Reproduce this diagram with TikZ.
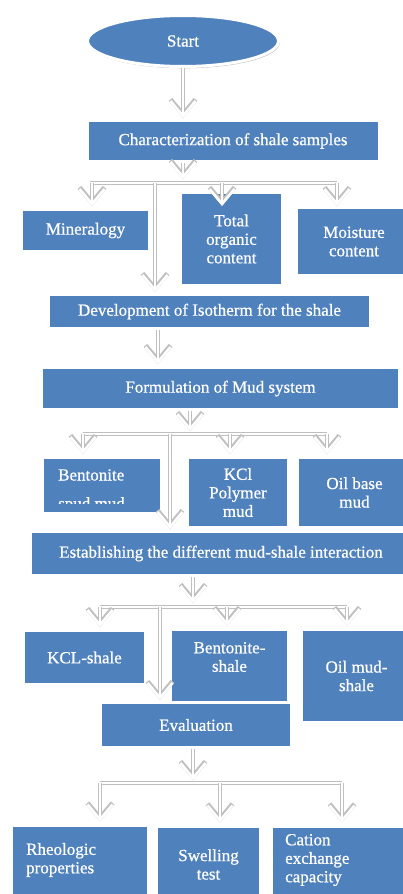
\documentclass[tikz,border=0pt]{standalone}
\usepackage{fontspec}
\setmainfont{Liberation Serif}
\newfontfamily\boxff{Liberation Serif}[FakeBold=0.7]
\usetikzlibrary{arrows.meta,shadows,shapes.geometric}
\definecolor{boxblue}{HTML}{4F81BD}
\newcommand\boxfont{\boxff\fontsize{17}{18.5}\selectfont}
\begin{document}
\begin{tikzpicture}[x=1pt,y=-1pt,
  box/.style={rectangle, fill=boxblue, draw=white, line width=3pt, text=white,
    font=\boxfont, align=center, inner sep=1pt,
    drop shadow={shadow xshift=1.2pt, shadow yshift=-1.8pt, fill=black!60, opacity=0.4}},
  conn/.style={draw=white, line width=2.6pt, line cap=butt, line join=miter,
    preaction={draw=black!25, line width=4.6pt}},
  arr/.style={-{Straight Barb[length=15pt,width=25pt,line join=miter]}},
  txt/.style={text=white, font=\boxfont, inner sep=0pt}]
\useasboundingbox (0,0) rectangle (403,894);
\fill[white] (0,0) rectangle (403,894);

% boxes
\node[box, ellipse, minimum width=191pt, minimum height=51pt] (start) at (183,41) {Start};
\node[box, minimum width=292pt, minimum height=41pt] (char) at (233,141) {Characterization of shale samples};
\node[box, minimum width=128pt, minimum height=42pt] (min) at (85.5,230.5) {Mineralogy};
\node[box, minimum width=102pt, minimum height=93pt] (toc) at (231.5,239) {Total\\organic\\content};
\node[box, minimum width=115pt, minimum height=68pt] (moist) at (354,241.5) {Moisture\\content};
\node[box, minimum width=322pt, minimum height=34pt] (dev) at (209.5,311.5) {Development of Isotherm for the shale};
\node[box, minimum width=358pt, minimum height=42pt] (form) at (220.5,388.5) {Formulation of Mud system};
\node[box, minimum width=119pt, minimum height=56pt] (bent) at (102,485.5) {};
\node[box, minimum width=101pt, minimum height=70pt] (kcl) at (238,492.5) {KCl\\Polymer\\mud};
\node[box, minimum width=114pt, minimum height=70pt] (oil) at (354.5,492.5) {Oil base\\mud};
\node[box, minimum width=381pt, minimum height=44pt] (est) at (221,553.5) {Establishing the different mud-shale interaction};
\node[box, minimum width=122pt, minimum height=54pt] (kcls) at (84.5,657.5) {KCL-shale};
\node[box, minimum width=118pt, minimum height=73pt] (bents) at (229.5,666) {};
\node[box, minimum width=110pt, minimum height=93pt] (oilms) at (356.5,676) {Oil mud-\\shale};
\node[box, minimum width=191pt, minimum height=45pt] (eval) at (196,725) {Evaluation};
\node[box, minimum width=137pt, minimum height=78pt] (rheo) at (80,864) {};
\node[box, minimum width=104pt, minimum height=77pt] (swell) at (208.5,864.5) {Swelling\\test};
\node[box, minimum width=140pt, minimum height=77pt] (cat) at (341.5,864.5) {};

% texts placed off-centre
\node[txt, anchor=base west] (bentt) at (58,480.5) {Bentonite};
\begin{scope}
  \clip (44,440) rectangle (160,503.5);
  \node[txt, anchor=base west] (bentt2) at (58,509) {spud mud};
\end{scope}
\node[txt, align=center] (bentst) at (229.5,657) {Bentonite-\\shale};
\node[txt, align=left, anchor=west] (rheot) at (26,860) {Rheologic\\properties};
\node[txt, align=left, anchor=west] (catt) at (285,860) {Cation\\exchange\\capacity};

% junction coordinates
\coordinate (j1) at (183,183);
\coordinate (h1l) at (90,183);  \coordinate (h1r) at (337,183);
\coordinate (a1) at (92,183);   \coordinate (b1) at (155,183);
\coordinate (c1) at (222,183);  \coordinate (d1) at (337,183);
\coordinate (tc1) at (222,206); \coordinate (td1) at (337,206);

\coordinate (j3) at (190,434);
\coordinate (h3l) at (83,434);  \coordinate (h3r) at (327,434);
\coordinate (a3) at (83,434);   \coordinate (b3) at (170,434);
\coordinate (c3) at (230,434);  \coordinate (d3) at (327,434);

\coordinate (j4) at (193,607);
\coordinate (h4l) at (100,607); \coordinate (h4r) at (347,607);
\coordinate (a4) at (100,607);  \coordinate (b4) at (160,607);
\coordinate (c4) at (227,607);  \coordinate (d4) at (347,607);

\coordinate (j5) at (193,783);
\coordinate (h5l) at (100,783); \coordinate (h5r) at (342,783);
\coordinate (a5) at (100,783);  \coordinate (c5) at (220,783);
\coordinate (d5) at (342,783);

% connectors
\draw[conn,arr,shorten >=1pt] (start.south) -- (start.south |- char.north);

\draw[conn] (h1l) -- (h1r);
\draw[conn,arr,shorten >=4pt] (char.south -| j1) -- (j1);
\draw[conn,arr,shorten >=2pt] (a1) -- (a1 |- min.north);
\draw[conn,arr,shorten >=1pt] (b1) -- (b1 |- dev.north);
\draw[conn,arr] (c1) -- (tc1);
\draw[conn,arr] (d1) -- (td1);

\draw[conn,arr,shorten >=2pt] (dev.south -| 158,0) -- (form.north -| 158,0);

\draw[conn] (h3l) -- (h3r);
\draw[conn,arr,shorten >=3pt] (form.south -| j3) -- (j3);
\draw[conn,arr,shorten >=2pt] (a3) -- (a3 |- bent.north);
\draw[conn,arr,shorten >=1pt] (b3) -- (b3 |- est.north);
\draw[conn,arr,shorten >=2pt] (c3) -- (c3 |- kcl.north);
\draw[conn,arr,shorten >=2pt] (d3) -- (d3 |- oil.north);

\draw[conn] (h4l) -- (h4r);
\draw[conn,arr,shorten >=4pt] (est.south -| j4) -- (j4);
\draw[conn,arr,shorten >=2pt] (a4) -- (a4 |- kcls.north);
\draw[conn,arr,shorten >=1pt] (b4) -- (b4 |- eval.north);
\draw[conn,arr,shorten >=2pt] (c4) -- (c4 |- bents.north);
\draw[conn,arr,shorten >=2pt] (d4) -- (d4 |- oilms.north);

\draw[conn] (h5l) -- (h5r);
\draw[conn,arr,shorten >=3pt] (eval.south -| j5) -- (j5);
\draw[conn,arr,shorten >=2pt] (a5) -- (a5 |- rheo.north);
\draw[conn,arr,shorten >=2pt] (c5) -- (c5 |- swell.north);
\draw[conn,arr,shorten >=2pt] (d5) -- (d5 |- cat.north);
\end{tikzpicture}
\end{document}
